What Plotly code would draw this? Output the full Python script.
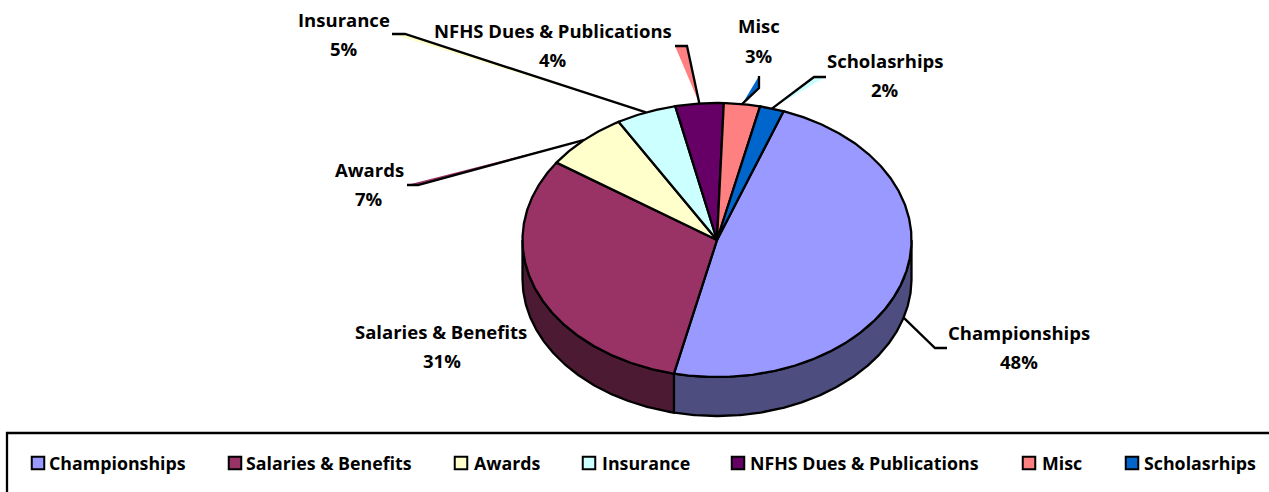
import numpy as np
import plotly.graph_objects as go

categories = ["Championships", "Salaries & Benefits", "Awards", "Insurance",
              "NFHS Dues & Publications", "Misc", "Scholasrhips"]
values = [48, 31, 7, 5, 4, 3, 2]
colors = ["#9999FF", "#993366", "#FFFFCC", "#CCFFFF", "#660066", "#FF8080", "#0066CC"]
side_colors = ["#4D4D80", "#4D1A33"]
sliver_color_index = [None, None, 1, 2, 5, 6, 3]

# layout of the pie in pixels
CX, CY, RX, RY, DEPTH = 717, 240, 194.5, 137, 39
START = 20
FONT = "Open Sans"
LABEL_TXT = 18.5
LEGEND_TXT = 17.8
label_name_pos = [(1019, 332), (441, 331), (369, 169), (344, 19), (553, 30), (759, 25), (885, 60)]
label_pct_pos = [(1019, 361), (442, 360), (369, 198), (344, 48), (553, 59), (759, 55), (885, 89)]
elbow = [
    [(935, 348), (947, 348)],
    [],
    [(418, 185), (407, 185)],
    [(405, 34), (392, 34)],
    [(687, 46), (675, 46)],
    [(759, 88), (759, 76)],
    [(814, 77), (826, 77)],
]
legend_marker_x = [38, 235, 461, 589, 738, 1029, 1132]
legend_text_x = [49, 246, 474, 602, 750, 1042, 1144]
LEGEND_Y = 463

LINE = dict(color="black", width=2.3)


def rim(deg, drop=0.0):
    a = np.radians(np.asarray(deg, dtype=float))
    return CX + RX * np.sin(a), CY - RY * np.cos(a) + drop


def span(a, b):
    return np.linspace(a, b, max(int(abs(b - a)) * 2, 2) + 1)


total = sum(values)
edges = START + np.cumsum([0] + values) * 360.0 / total

fig = go.Figure()

# leader lines and their slivers
for i in range(len(values)):
    if not elbow[i]:
        continue
    mid = (edges[i] + edges[i + 1]) / 2
    on_side = 90 < mid % 360 < 270
    ax, ay = rim(mid, DEPTH if on_side else 0)
    xs = [float(ax)] + [p[0] for p in elbow[i]]
    ys = [float(ay)] + [p[1] for p in elbow[i]]
    if sliver_color_index[i] is not None:
        fig.add_trace(go.Scatter(x=xs + xs[:1], y=ys + ys[:1], mode="none", fill="toself",
                                 fillcolor=colors[sliver_color_index[i]], hoverinfo="skip"))
    fig.add_trace(go.Scatter(x=xs, y=ys, mode="lines", line=LINE, hoverinfo="skip"))

# side walls of the lower half
for i in range(len(values)):
    a, b = max(edges[i], 90), min(edges[i + 1], 270)
    if a >= b:
        continue
    t = span(a, b)
    x1, y1 = rim(t)
    x2, y2 = rim(t[::-1], DEPTH)
    fig.add_trace(go.Scatter(x=np.r_[x1, x2, x1[:1]], y=np.r_[y1, y2, y1[:1]], mode="lines",
                             fill="toself", fillcolor=side_colors[i], line=LINE, hoverinfo="skip"))

# top faces
for i, name in enumerate(categories):
    t = span(edges[i], edges[i + 1])
    x, y = rim(t)
    fig.add_trace(go.Scatter(x=np.r_[CX, x, CX], y=np.r_[CY, y, CY], mode="lines", fill="toself",
                             fillcolor=colors[i], line=LINE, name=name,
                             hovertemplate=f"{name}: {values[i]}%<extra></extra>"))

# labels
for i, name in enumerate(categories):
    pct = f"{round(values[i] * 100 / total)}%"
    for (lx, ly), s in ((label_name_pos[i], name), (label_pct_pos[i], pct)):
        fig.add_annotation(x=lx, y=ly, text=f"<b>{s}</b>", showarrow=False, xanchor="center",
                           yanchor="middle", font=dict(family=FONT, size=LABEL_TXT, color="black"))

# legend
fig.add_shape(type="rect", xref="x", yref="y", x0=7, y0=433, x1=1285, y1=510,
              line=dict(color="black", width=2.3), fillcolor="white", layer="below")
fig.add_trace(go.Scatter(x=legend_marker_x, y=[LEGEND_Y] * len(values), mode="markers",
                         marker=dict(symbol="square", size=12.5, color=colors,
                                     line=dict(color="black", width=2)), hoverinfo="skip"))
for i, name in enumerate(categories):
    fig.add_annotation(x=legend_text_x[i], y=LEGEND_Y, text=f"<b>{name}</b>", showarrow=False,
                       xanchor="left", yanchor="middle", xshift=-2,
                       font=dict(family=FONT, size=LEGEND_TXT, color="black"))

fig.update_layout(
    width=1269, height=492, margin=dict(l=0, r=0, t=0, b=0),
    paper_bgcolor="white", plot_bgcolor="white", showlegend=False,
    xaxis=dict(range=[0, 1269], visible=False, fixedrange=True),
    yaxis=dict(range=[492, 0], visible=False, fixedrange=True),
)
fig.write_html("out.html", config=dict(displayModeBar=False),
               post_script="document.body.style.margin='0';document.documentElement.style.overflow='hidden';")
